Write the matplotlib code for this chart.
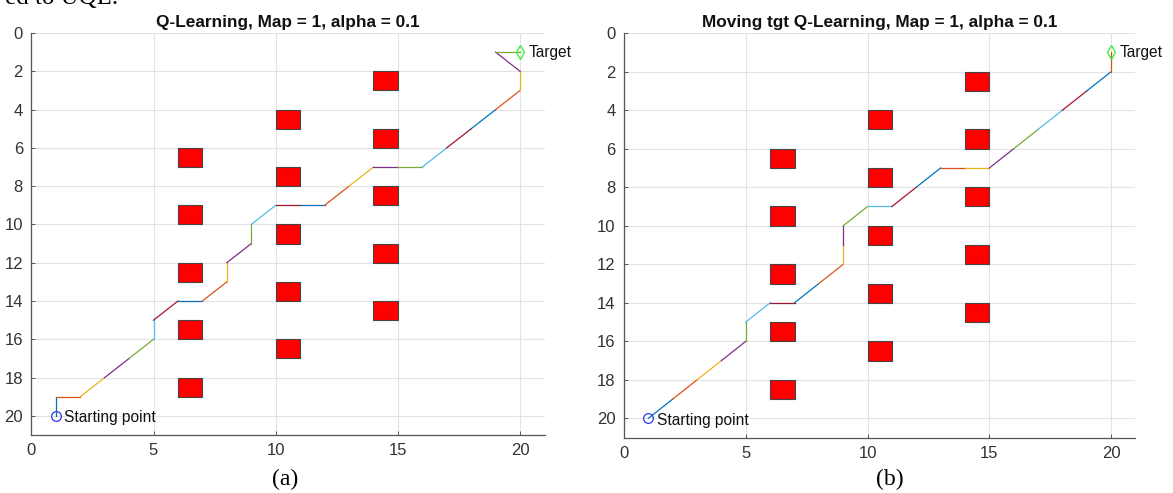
import numpy as np
import matplotlib.pyplot as plt
from matplotlib.patches import Rectangle

# Obstacle cells (top-left corner x, y) for map 1
obs_x = [6, 6, 6, 6, 6, 10, 10, 10, 10, 10, 14, 14, 14, 14, 14]
obs_y = [6, 9, 12, 15, 18, 4, 7, 10, 13, 16, 2, 5, 8, 11, 14]

# Path found by plain Q-learning
path_a_x = [1, 1, 2, 3, 4, 5, 5, 6, 7, 8, 8, 9, 9, 10, 11, 12, 13, 14, 15, 16, 17, 18, 19, 20, 20, 19, 20]
path_a_y = [20, 19, 19, 18, 17, 16, 15, 14, 14, 13, 12, 11, 10, 9, 9, 9, 8, 7, 7, 7, 6, 5, 4, 3, 2, 1, 1]

# Path found by moving target Q-learning
path_b_x = [1, 2, 3, 4, 5, 5, 6, 7, 8, 9, 9, 9, 10, 11, 12, 13, 14, 15, 16, 17, 18, 19, 20, 20]
path_b_y = [20, 19, 18, 17, 16, 15, 14, 14, 13, 12, 11, 10, 9, 9, 8, 7, 7, 7, 6, 5, 4, 3, 2, 1]

start = (1, 20)
target = (20, 1)

titles = ['Q-Learning, Map = 1, alpha = 0.1',
          'Moving tgt Q-Learning, Map = 1, alpha = 0.1']
captions = ['(a)', '(b)']

# matlab default line colours, each step plotted on its own
mcolors = ['#0072BD', '#D95319', '#EDB120', '#7E2F8E', '#77AC30', '#4DBEEE', '#A2142F']

plt.rcParams['font.family'] = ['Liberation Sans', 'DejaVu Sans']

fig = plt.figure(figsize=(11.73, 4.93), dpi=100)
ax1 = fig.add_axes([0.0267, 0.1176, 0.4375, 0.8154])
ax2 = fig.add_axes([0.5320, 0.1124, 0.4360, 0.8203])

# tail of the preceding sentence, cut by the top edge
fig.text(0.1006, 0.992, 'ed to UQL.', family='Liberation Serif', fontsize=18,
         va='baseline', ha='right')


def draw(ax, px, py, title, cap, capx):
    for i in range(len(obs_x)):
        ax.add_patch(Rectangle((obs_x[i], obs_y[i]), 1, 1, facecolor='red',
                               edgecolor='#444444', linewidth=0.8, zorder=3))
    for i in range(len(px) - 1):
        ax.plot(px[i:i+2], py[i:i+2], color=mcolors[i % 7], lw=0.9, zorder=4)
    ax.plot(start[0], start[1], 'o', mfc='none', mec='#3333ee', ms=7, mew=0.9, zorder=5)
    ax.plot(target[0], target[1], 'd', mfc='none', mec='#33ee33', ms=7.5, mew=0.9, zorder=5)
    ax.text(start[0] + 0.35, start[1] + 0.1, 'Starting point', fontsize=11.2,
            va='center', ha='left', color='#111111', zorder=6)
    ax.text(target[0] + 0.35, target[1], 'Target', fontsize=11.2,
            va='center', ha='left', color='#111111', zorder=6)

    ax.set_xlim(0, 21)
    ax.set_ylim(21, 0)
    ax.set_xticks(np.arange(0, 21, 5))
    ax.set_yticks(np.arange(0, 21, 2))
    ax.grid(True, color='#e3e3e3', lw=0.8)
    ax.set_axisbelow(True)
    for s in ['top', 'right']:
        ax.spines[s].set_visible(False)
    for s in ['left', 'bottom']:
        ax.spines[s].set_color('#555555')
        ax.spines[s].set_linewidth(0.9)
    ax.tick_params(direction='in', length=3, width=0.7, color='#555555',
                   labelsize=12, labelcolor='#333333', pad=6)
    ax.set_title(title, fontsize=12.4, fontweight='bold', pad=4.5, color='#111111')
    fig.text(capx, 0.028, cap, ha='center', va='center',
             family='Liberation Serif', fontsize=17)


draw(ax1, path_a_x, path_a_y, titles[0], captions[0], 285 / 1173)
draw(ax2, path_b_x, path_b_y, titles[1], captions[1], 890 / 1173)

fig.savefig('out.png', dpi=100)
